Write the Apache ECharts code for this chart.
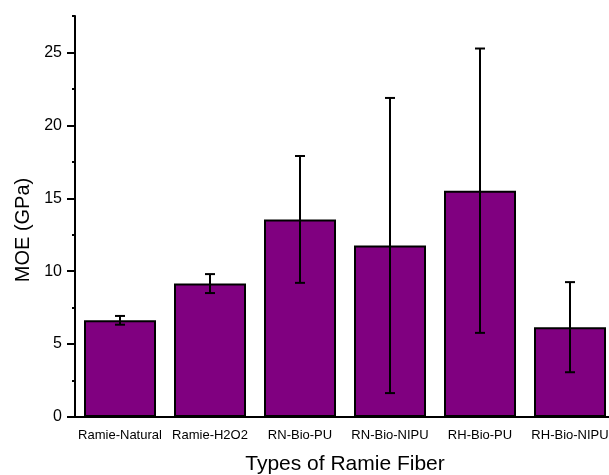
<!DOCTYPE html>
<html>
<head>
<meta charset="utf-8">
<script src="https://cdn.jsdelivr.net/npm/echarts@6/dist/echarts.min.js"></script>
<style>html,body{margin:0;padding:0;background:#fff;}#c{width:609px;height:475px;}</style>
</head>
<body>
<div id="c"></div>
<script>
var categories = ['Ramie-Natural', 'Ramie-H2O2', 'RN-Bio-PU', 'RN-Bio-NIPU', 'RH-Bio-PU', 'RH-Bio-NIPU'];
var moeValues = [6.63, 9.15, 13.55, 11.76, 15.52, 6.16];
var moeErrors = [0.30, 0.65, 4.35, 10.12, 9.75, 3.09];
var yMajorTicks = [0, 5, 10, 15, 20, 25];
var yMinorTicks = [2.5, 7.5, 12.5, 17.5, 22.5, 27.5];
var yMax = 27.5;

var errData = moeValues.map(function (v, i) { return [i, v - moeErrors[i], v + moeErrors[i]]; });

var chart = echarts.init(document.getElementById('c'), null, {renderer: 'canvas'});
var font = 'Liberation Sans, Arial, sans-serif';
chart.setOption({
  animation: false,
  grid: {left: 75, top: 16, bottom: 58, width: 540, outerBoundsMode: 'none', containLabel: false},
  xAxis: [{
    type: 'category',
    data: categories,
    position: 'bottom',
    axisLine: {lineStyle: {color: '#000', width: 2}},
    axisTick: {alignWithLabel: true, length: 8, lineStyle: {color: '#000', width: 2}},
    axisLabel: {color: '#000', fontSize: 13, fontFamily: font, margin: 12, interval: 0},
    name: 'Types of Ramie Fiber',
    nameLocation: 'middle',
    nameGap: 37,
    nameTextStyle: {color: '#000', fontSize: 21, fontFamily: font}
  }, {
    type: 'category',
    data: categories,
    position: 'bottom',
    axisLine: {show: false},
    axisTick: {alignWithLabel: false, length: 3, lineStyle: {color: '#000', width: 2}},
    axisLabel: {show: false}
  }],
  yAxis: [{
    type: 'value',
    min: 0,
    max: yMax,
    position: 'left',
    splitLine: {show: false},
    axisLine: {show: true, lineStyle: {color: '#000', width: 2}},
    axisTick: {show: true, length: 8, customValues: yMajorTicks, lineStyle: {color: '#000', width: 2}},
    axisLabel: {color: '#000', fontSize: 16, fontFamily: font, margin: 13, customValues: yMajorTicks},
    name: 'MOE (GPa)',
    nameLocation: 'middle',
    nameGap: 40,
    nameTextStyle: {color: '#000', fontSize: 20, fontFamily: font, padding: [0, 27, 0, 0]}
  }, {
    type: 'value',
    min: 0,
    max: yMax,
    position: 'left',
    offset: 0,
    splitLine: {show: false},
    axisLine: {show: false},
    axisTick: {show: true, length: 3, customValues: yMinorTicks, lineStyle: {color: '#000', width: 2}},
    axisLabel: {show: false}
  }],
  series: [{
    type: 'bar',
    data: moeValues,
    barCategoryGap: '20%',
    itemStyle: {color: '#800080', borderColor: '#000', borderWidth: 2},
    z: 2
  }, {
    type: 'custom',
    data: errData,
    z: 5,
    renderItem: function (params, api) {
      var x = api.value(0);
      var lo = api.coord([x, api.value(1)]);
      var hi = api.coord([x, api.value(2)]);
      var hw = 5;
      var st = {stroke: '#000', lineWidth: 2};
      return {
        type: 'group',
        children: [
          {type: 'line', shape: {x1: hi[0], y1: hi[1], x2: lo[0], y2: lo[1]}, style: st},
          {type: 'line', shape: {x1: hi[0] - hw, y1: hi[1], x2: hi[0] + hw, y2: hi[1]}, style: st},
          {type: 'line', shape: {x1: lo[0] - hw, y1: lo[1], x2: lo[0] + hw, y2: lo[1]}, style: st}
        ]
      };
    }
  }]
});
</script>
</body>
</html>
